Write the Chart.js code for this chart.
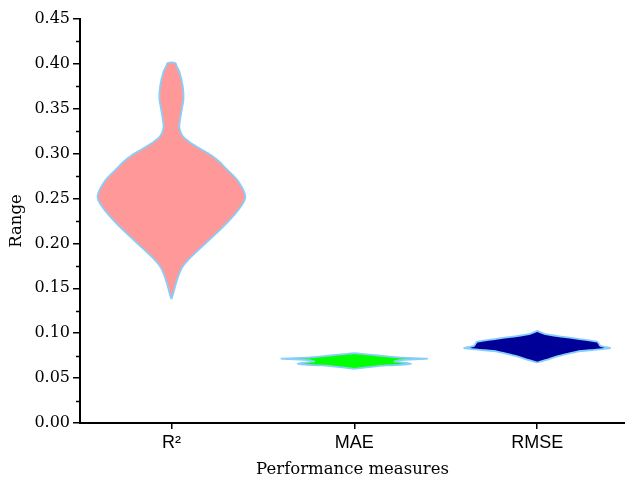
<!DOCTYPE html>
<html>
<head>
<meta charset="utf-8">
<script src="https://cdn.jsdelivr.net/npm/chart.js@4.4.1/dist/chart.umd.min.js"></script>
<style>
  body { margin: 0; background: #fff; }
  canvas { display: block; }
</style>
</head>
<body>
<canvas id="violinChart" width="625" height="482"></canvas>
<script>
// categories on the x axis
const categories = ['R\u00B2', 'MAE', 'RMSE'];
const yTickValues = [0, 0.05, 0.10, 0.15, 0.20, 0.25, 0.30, 0.35, 0.40, 0.45];
const yMinorTicks = [0.025, 0.075, 0.125, 0.175, 0.225, 0.275, 0.325, 0.375, 0.425];

// violin outlines: value levels and half widths (in category units)
const r2Levels = [0.138, 0.145, 0.157, 0.172, 0.183, 0.202, 0.220, 0.239, 0.252, 0.269, 0.283, 0.291, 0.298, 0.306, 0.313, 0.320, 0.328, 0.335, 0.350, 0.361, 0.375, 0.391, 0.398, 0.401];
const r2Widths = [0, 0.011, 0.027, 0.055, 0.098, 0.197, 0.290, 0.372, 0.404, 0.366, 0.301, 0.262, 0.219, 0.153, 0.098, 0.060, 0.044, 0.045, 0.057, 0.066, 0.062, 0.044, 0.027, 0.022];

const maeLevels = [0.0604, 0.0619, 0.0641, 0.0650, 0.0660, 0.0672, 0.0685, 0.0700, 0.0712, 0.0717, 0.0722, 0.0730, 0.0745, 0.0759, 0.0770, 0.0778];
const maeWidths = [0, 0.066, 0.175, 0.273, 0.311, 0.273, 0.219, 0.246, 0.355, 0.399, 0.328, 0.246, 0.164, 0.098, 0.038, 0];

const rmseLevels = [0.0674, 0.0700, 0.0741, 0.0770, 0.0796, 0.0815, 0.0835, 0.0848, 0.0860, 0.0880, 0.0907, 0.0937, 0.0963, 0.0990, 0.1026];
const rmseWidths = [0, 0.044, 0.109, 0.164, 0.219, 0.311, 0.399, 0.366, 0.344, 0.339, 0.328, 0.224, 0.131, 0.044, 0];

const fillColors = ['#ff9999', '#00ff00', '#000099'];
const edgeColor = '#87cefa';

/**
 * Build a closed outline: right side going up, left side coming down
 */
function violinPoints(pos, levels, widths) {
    const right = levels.map((y, i) => ({ x: pos + widths[i], y: y }));
    const left = levels.map((y, i) => ({ x: pos - widths[i], y: y })).reverse();
    const pts = right.concat(left);
    pts.push(pts[0]);
    return pts;
}

function violinDataset(pos, levels, widths, color, tension) {
    return {
        data: violinPoints(pos, levels, widths),
        showLine: true,
        fill: 'shape',
        backgroundColor: color,
        borderColor: edgeColor,
        borderWidth: 1.8,
        pointRadius: 0,
        tension: tension
    };
}

// short ticks between the labelled ones on the y axis
const minorTicks = {
    id: 'minorTicks',
    afterDraw(chart) {
        const y = chart.scales.y;
        const ctx = chart.ctx;
        ctx.save();
        ctx.strokeStyle = '#000';
        ctx.lineWidth = 1.5;
        yMinorTicks.forEach(v => {
            const py = Math.round(y.getPixelForValue(v)) + 0.5;
            ctx.beginPath();
            ctx.moveTo(chart.chartArea.left - 4, py);
            ctx.lineTo(chart.chartArea.left, py);
            ctx.stroke();
        });
        ctx.restore();
    }
};

const serif = 'DejaVu Serif';

new Chart(document.getElementById('violinChart'), {
    type: 'scatter',
    data: {
        datasets: [
            violinDataset(1, r2Levels, r2Widths, fillColors[0], 0.35),
            violinDataset(2, maeLevels, maeWidths, fillColors[1], 0.15),
            violinDataset(3, rmseLevels, rmseWidths, fillColors[2], 0.15)
        ]
    },
    options: {
        responsive: false,
        animation: false,
        layout: { padding: { left: 7, top: 19, right: 0, bottom: 2 } },
        plugins: {
            legend: { display: false },
            tooltip: { enabled: false }
        },
        scales: {
            x: {
                type: 'linear',
                min: 0.5,
                max: 3.48,
                afterBuildTicks: s => { s.ticks = [1, 2, 3].map(v => ({ value: v })); },
                afterFit: s => { s.height = 57; },
                border: { color: '#000', width: 2 },
                grid: { drawOnChartArea: false, color: '#000', lineWidth: 1.5, tickLength: 6 },
                ticks: {
                    color: '#000',
                    padding: 3,
                    font: { family: 'Liberation Sans', size: 18 },
                    callback: v => categories[Math.round(v) - 1]
                },
                title: {
                    display: true,
                    text: 'Performance measures',
                    color: '#000',
                    font: { family: serif, size: 16.5 },
                    padding: { top: 0, bottom: 0 }
                }
            },
            y: {
                min: 0,
                max: 0.45,
                afterBuildTicks: s => { s.ticks = yTickValues.map(v => ({ value: v })); },
                afterFit: s => { s.width = 73; },
                border: { color: '#000', width: 2 },
                grid: { drawOnChartArea: false, color: '#000', lineWidth: 1.5, tickLength: 7 },
                ticks: {
                    color: '#000',
                    padding: 3,
                    font: { family: serif, size: 16 },
                    callback: v => v.toFixed(2)
                },
                title: {
                    display: true,
                    text: 'Range',
                    color: '#000',
                    font: { family: serif, size: 16.5 },
                    padding: { top: 0, bottom: 0 }
                }
            }
        }
    },
    plugins: [minorTicks]
});
</script>
</body>
</html>
